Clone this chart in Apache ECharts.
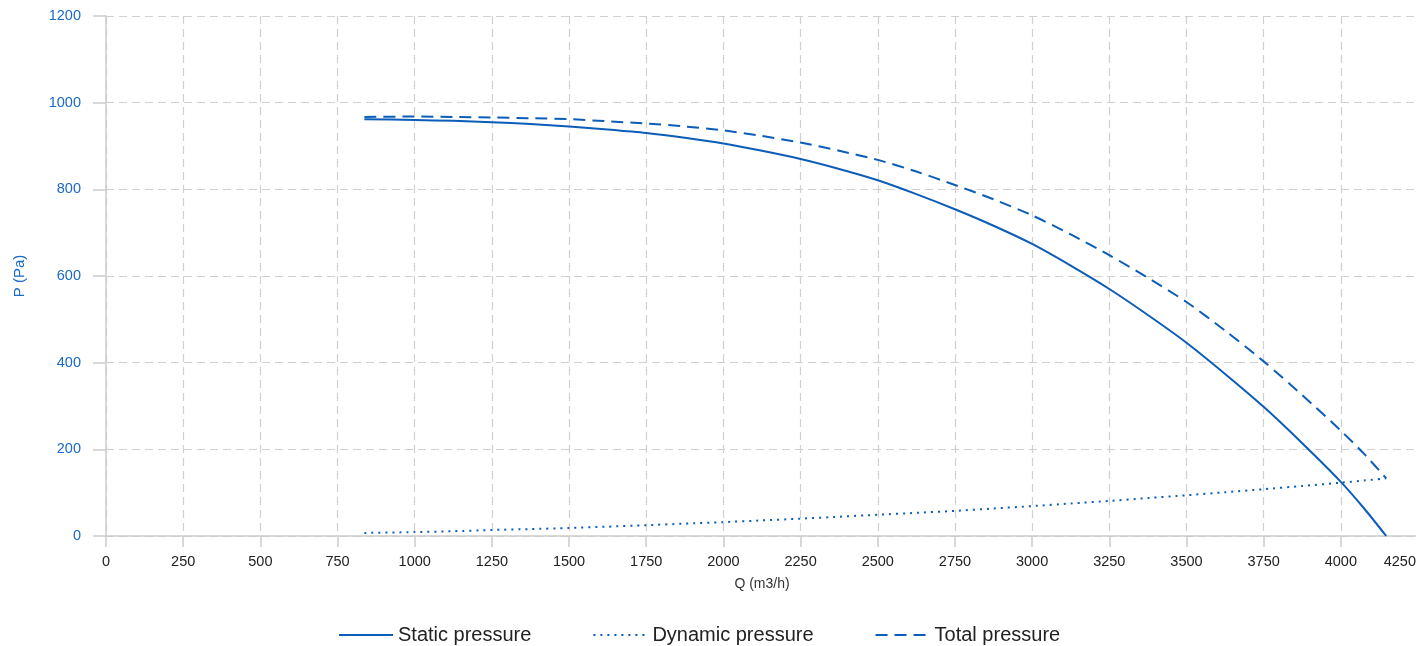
<!DOCTYPE html>
<html>
<head>
<meta charset="utf-8">
<script src="https://cdn.jsdelivr.net/npm/echarts@6/dist/echarts.min.js"></script>
<style>
html,body{margin:0;padding:0;background:#fff;}
#chart{width:1416px;height:646px;}
</style>
</head>
<body>
<div id="chart"></div>
<script>
// Airflow Q (m3/h)
const flow = [837, 1000, 1125, 1250, 1375, 1500, 1625, 1750, 1875, 2000, 2125, 2250, 2375, 2500, 2625,
              2750, 2875, 3000, 3125, 3250, 3375, 3500, 3625, 3750, 3875, 4000, 4075, 4147];
// Pressures (Pa)
const staticPressure  = [962, 960, 958, 955, 951, 945, 938, 930, 919, 906, 889, 870, 847, 821, 789,
                         754, 716, 674, 624, 570, 510, 446, 374, 298, 214, 125, 64, 0];
const dynamicPressure = [7, 9, 11, 14, 16, 18.5, 21.5, 25, 28.5, 32, 36, 40, 44.5, 49, 53.5,
                         58, 63.5, 69, 75, 81, 87.5, 94, 101, 108, 115.5, 123, 128, 133];
const totalPressure   = [967, 968, 967, 966, 964, 962, 957, 952, 945, 936, 923, 908, 889, 868, 841,
                         810, 777, 740, 696, 648, 596, 540, 474, 403, 325, 243, 190, 133];

const seriesNames = ['Static pressure', 'Dynamic pressure', 'Total pressure'];
const xTicks = { min: 0, max: 4250, step: 250 };
const yTicks = { min: 0, max: 1200, step: 200 };

const lineColor = '#0b5db8';
const blueText = '#1b6ac9';
const fontFam = 'Liberation Sans, Arial, sans-serif';

function pairs(ys) { return flow.map((q, i) => [q, ys[i]]); }
function plain(v) { return String(v); }
function xLabel(v) { return v === xTicks.max ? '{last|' + v + '}' : String(v); }

const chart = echarts.init(document.getElementById('chart'), null, { renderer: 'canvas' });
chart.setOption({
  animation: false,
  backgroundColor: '#ffffff',
  grid: { left: 106, right: -2, top: 16, bottom: 110, containLabel: false, outerBoundsMode: 'none' },
  legend: {
    left: 338, top: 625, padding: 0,
    itemWidth: 54, itemHeight: 14, itemGap: 61,
    itemStyle: { opacity: 0 },
    textStyle: { fontSize: 20, color: '#222', fontFamily: fontFam },
    data: seriesNames
  },
  xAxis: {
    type: 'value',
    min: xTicks.min, max: xTicks.max, interval: xTicks.step,
    name: 'Q (m3/h)', nameLocation: 'middle', nameGap: 41,
    nameTextStyle: { fontSize: 14, color: '#333', fontFamily: fontFam },
    axisLine: { show: true, lineStyle: { color: '#cccccc', width: 1.5 } },
    axisTick: { show: true, length: 11, lineStyle: { color: '#cccccc', width: 1.5 } },
    axisLabel: {
      fontSize: 14.5, color: '#222', margin: 18, alignMaxLabel: 'right', fontFamily: fontFam, formatter: xLabel,
      rich: { last: { fontSize: 14.5, color: '#222', fontFamily: fontFam, padding: [0, 2, 0, 0] } }
    },
    splitLine: { show: true, lineStyle: { color: '#d0d0d0', type: [8, 5], width: 1.2 } }
  },
  yAxis: {
    type: 'value',
    min: yTicks.min, max: yTicks.max, interval: yTicks.step,
    name: 'P (Pa)', nameLocation: 'middle', nameGap: 79, nameRotate: 90,
    nameTextStyle: { fontSize: 15, color: blueText, fontFamily: fontFam },
    axisLine: { show: true, lineStyle: { color: '#cccccc', width: 1.5 } },
    axisTick: { show: true, length: 13, lineStyle: { color: '#cccccc', width: 1.5 } },
    axisLabel: { fontSize: 14.5, color: blueText, margin: 25, fontFamily: fontFam, formatter: plain },
    splitLine: { show: true, lineStyle: { color: '#d0d0d0', type: [8, 5], width: 1.2 } }
  },
  series: [
    {
      name: seriesNames[0], type: 'line', data: pairs(staticPressure),
      smooth: 0.25, symbol: 'none', showSymbol: false,
      lineStyle: { color: lineColor, width: 2, type: 'solid' },
      itemStyle: { color: lineColor }
    },
    {
      name: seriesNames[1], type: 'line', data: pairs(dynamicPressure),
      smooth: 0.25, symbol: 'none', showSymbol: false,
      lineStyle: { color: lineColor, width: 2, type: [2, 5] },
      itemStyle: { color: lineColor }
    },
    {
      name: seriesNames[2], type: 'line', data: pairs(totalPressure),
      smooth: 0.25, symbol: 'none', showSymbol: false,
      lineStyle: { color: lineColor, width: 2, type: [12, 7] },
      itemStyle: { color: lineColor }
    }
  ]
});
</script>
</body>
</html>
